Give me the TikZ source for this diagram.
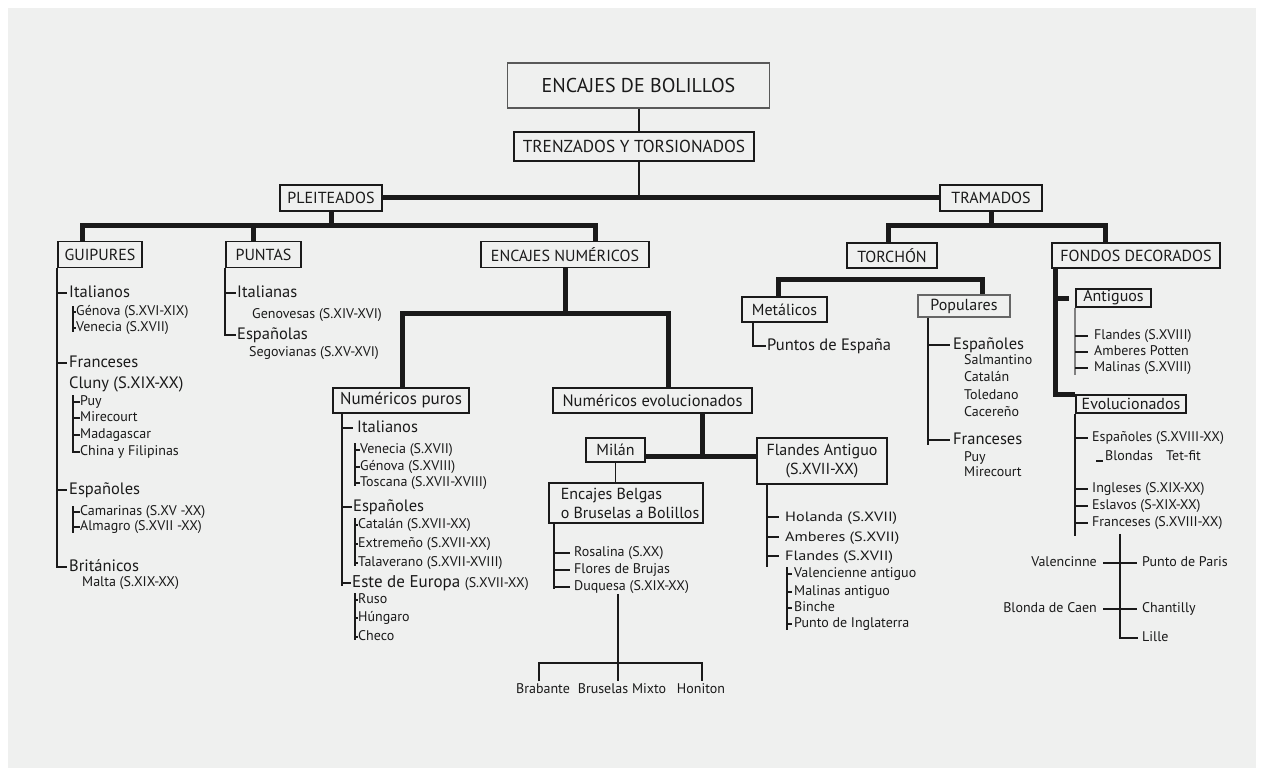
\documentclass[tikz,border=0pt]{standalone}
\usepackage{fontspec}
\setmainfont{PT Sans}
\newfontfamily\widefont[FakeStretch=1.2]{PT Sans}
\definecolor{bgc}{HTML}{EFF0EF}
\definecolor{ink}{HTML}{1A1A1A}
\begin{document}
\begin{tikzpicture}[x=1pt,y=-1pt,
  bx/.style={draw=ink, line width=1.6pt, fill=bgc, inner sep=0pt, align=center, text=ink, font=\fontsize{16}{19}\selectfont},
  lb/.style={anchor=west, inner sep=0pt, text=ink, font=\fontsize{16.5}{18}\selectfont, text height=11.7pt, text depth=3.6pt},
  lw/.style={lb, font=\widefont\fontsize{13.5}{15}\selectfont},
  ls/.style={anchor=west, inner sep=0pt, text=ink, font=\fontsize{14}{16}\selectfont, text height=10pt, text depth=3.1pt},
  thk/.style={line width=5pt, draw=ink},
  thn/.style={line width=2.6pt, draw=ink},
  ln/.style={line width=1.6pt, draw=ink},
  hl/.style={line width=1.2pt, draw=ink}]
\useasboundingbox (0,0) rectangle (1269,778);
\fill[white] (0,0) rectangle (1269,778);
\fill[bgc] (8,8) rectangle (1256,768);

% ---------- top levels
\node[bx, draw=gray!70!black, line width=1.2pt, minimum width=262, minimum height=45, font=\fontsize{20}{22}\selectfont] (root) at (638.5,85.5) {ENCAJES DE BOLILLOS};
\node[bx, minimum width=240, minimum height=29, font=\fontsize{17.3}{19}\selectfont] (trz) at (634,146.5) {TRENZADOS Y TORSIONADOS};
\node[bx, minimum width=102, minimum height=26] (ple) at (331,198) {PLEITEADOS};
\node[bx, minimum width=102, minimum height=26] (tra) at (991,198) {TRAMADOS};
\coordinate (ax) at (639,0);
\draw[thn] (root.south -| ax) -- (trz.north -| ax);
\draw[thn] (trz.south -| ax) -- (ple.east -| ax);
\draw[thk] (ple.east) -- (tra.west);

% ---------- second row
\node[bx, minimum width=84, minimum height=26] (gui) at (100,254.5) {GUIPURES};
\node[bx, minimum width=75, minimum height=26] (pun) at (263.5,254.5) {PUNTAS};
\node[bx, minimum width=168, minimum height=26] (enu) at (565,254.5) {ENCAJES NUMÉRICOS};
\node[bx, minimum width=90, minimum height=25] (tor) at (892,255.5) {TORCHÓN};
\node[bx, minimum width=168, minimum height=25] (fon) at (1136,255.5) {FONDOS DECORADOS};

\coordinate (pb) at (331,226);
\coordinate (gx) at (82,226);
\coordinate (px) at (253,226);
\coordinate (ex) at (595,226);
\draw[thk] (ple.south) -- (pb);
\draw[thk] (gui.north -| gx) -- (gx) -- (ex) -- (enu.north -| ex);
\draw[thk] (pun.north -| px) -- (px);

\coordinate (tb) at (991,226);
\coordinate (tx) at (888,226);
\coordinate (fx) at (1105,226);
\draw[thk] (tra.south) -- (tb);
\draw[thk] (tor.north -| tx) -- (tx) -- (fx) -- (fon.north -| fx);

% ---------- GUIPURES
\node[lb] (g1) at (69,293) {Italianos};
\node[ls] (g11) at (76,312) {Génova (S.XVI-XIX)};
\node[ls] (g12) at (76,328) {Venecia (S.XVII)};
\node[lb] (g2) at (69,363) {Franceses};
\node[lb] (g3) at (69,384) {Cluny (S.XIX-XX)};
\node[ls] (g31) at (80,402) {Puy};
\node[ls] (g32) at (80,418) {Mirecourt};
\node[ls] (g33) at (80,435) {Madagascar};
\node[ls] (g34) at (80,452) {China y Filipinas};
\node[lb] (g4) at (69,490) {Españoles};
\node[ls] (g41) at (80,512) {Camarinas (S.XV -XX)};
\node[ls] (g42) at (80,527) {Almagro (S.XVII -XX)};
\node[lb] (g5) at (69,567) {Británicos};
\node[ls] (g51) at (82,583) {Malta (S.XIX-XX)};
\draw[ln] (gui.south west) |- ([xshift=-2]g5.west);
\foreach \n in {g1,g2,g4} \draw[ln] (\n.west -| gui.west) -- ([xshift=-2]\n.west);
\coordinate (gs) at (73,0);
\draw[hl] ([yshift=6]g11.west -| gs) -- ([yshift=-4]g12.west -| gs);
\foreach \n in {g11,g12} \draw[hl] (\n.west -| gs) -- (\n.west);
\draw[hl] ([yshift=7]g31.west -| gs) |- (g34.west);
\foreach \n in {g31,g32,g33} \draw[hl] (\n.west -| gs) -- (\n.west);
\draw[hl] ([yshift=6]g41.west -| gs) -- ([yshift=-6]g42.west -| gs);
\foreach \n in {g41,g42} \draw[hl] (\n.west -| gs) -- (\n.west);

% ---------- PUNTAS
\node[lb] (p1) at (237,293) {Italianas};
\node[ls] (p11) at (252,315) {Genovesas (S.XIV-XVI)};
\node[lb] (p2) at (237,335) {Españolas};
\node[ls] (p21) at (249,353) {Segovianas (S.XV-XVI)};
\draw[ln] (pun.south west) |- ([xshift=-1]p2.west);
\draw[ln] (p1.west -| pun.west) -- ([xshift=-1]p1.west);

% ---------- ENCAJES NUMERICOS
\node[bx, minimum width=136, minimum height=25, font=\fontsize{17}{19}\selectfont] (npu) at (401,400.5) {Numéricos puros};
\node[bx, minimum width=199, minimum height=25, font=\fontsize{16.5}{19}\selectfont] (nev) at (652.5,400.5) {Numéricos evolucionados};
\coordinate (nb) at (565,313);
\coordinate (nl) at (402,313);
\coordinate (nr) at (668,313);
\draw[thk] (enu.south) -- (nb);
\draw[thk] (npu.north -| nl) -- (nl) -- (nr) -- (nev.north -| nr);

% Numericos puros list
\node[lb] (u1) at (357,428) {Italianos};
\node[ls] (u11) at (360,450) {Venecia (S.XVII)};
\node[ls] (u12) at (360,467) {Génova (S.XVIII)};
\node[ls] (u13) at (360,483) {Toscana (S.XVII-XVIII)};
\node[lb] (u2) at (353,507) {Españoles};
\node[ls] (u21) at (358,525) {Catalán (S.XVII-XX)};
\node[ls] (u22) at (358,544) {Extremeño (S.XVII-XX)};
\node[ls] (u23) at (358,563) {Talaverano (S.XVII-XVIII)};
\node[lb, font=\fontsize{17}{19}\selectfont] (u3) at (352,583) {Este de Europa {\fontsize{14}{16}\selectfont (S.XVII-XX)}};
\node[ls] (u31) at (358,600) {Ruso};
\node[ls] (u32) at (358,618) {Húngaro};
\node[ls] (u33) at (358,637) {Checo};
\coordinate (uv) at (342,0);
\draw[ln] (npu.south -| uv) -- ([yshift=-3]u3.west -| uv);
\draw[ln] (u1.west -| uv) -- ([xshift=-4]u1.west);
\foreach \n in {u2,u3} \draw[ln] (\n.west -| uv) -- ([xshift=-1]\n.west);
\coordinate (us) at (355,0);
\draw[hl] ([yshift=7]u11.west -| us) -- ([yshift=-3]u13.west -| us);
\draw[hl] ([yshift=7]u21.west -| us) -- ([yshift=-3]u23.west -| us);
\draw[hl] ([yshift=7]u31.west -| us) -- ([yshift=-3]u33.west -| us);
\foreach \n in {u11,u12,u13,u21,u22,u23,u31,u32,u33} \draw[hl] (\n.west -| us) -- (\n.west);

% Numericos evolucionados
\node[bx, minimum width=59, minimum height=24] (mil) at (615.5,450) {Milán};
\node[bx, minimum width=130, minimum height=46] (fla) at (822,461) {Flandes Antiguo\\(S.XVII-XX)};
\coordinate (eb) at (702,456);
\draw[thk] (nev.south -| eb) -- (eb);
\draw[thk] (mil.east |- eb) -- (fla.west |- eb);

\node[bx, minimum width=154, minimum height=40, align=left] (bel) at (626,503) {\hspace*{8pt}Encajes Belgas\\\hspace*{8pt}o Bruselas a Bolillos};
\draw[ln] (mil.south) -- (mil.south |- bel.north);

\node[ls] (b1) at (574,553) {Rosalina (S.XX)};
\node[ls] (b2) at (574,570) {Flores de Brujas};
\node[ls] (b3) at (574,587) {Duquesa (S.XIX-XX)};
\coordinate (bv) at (554,0);
\draw[ln] (bel.south -| bv) -- ([yshift=-2]b3.west -| bv);
\foreach \n in {b1,b2,b3} \draw[ln] (\n.west -| bv) -- ([xshift=-4]\n.west);

\coordinate (dq) at (618,663);
\coordinate (dl) at (539,663);
\coordinate (dr) at (702,663);
\node[ls, anchor=center] (bb1) at (543,690) {Brabante};
\node[ls, anchor=center] (bb2) at (622,690) {Bruselas Mixto};
\node[ls, anchor=center] (bb3) at (701,690) {Honiton};
\draw[ln] (b3.south -| dq) -- (dq);
\draw[ln] ([yshift=2]bb1.north -| dl) -- (dl) -- (dr) -- ([yshift=2]bb3.north -| dr);
\draw[ln] (dq) -- ([yshift=2]bb2.north -| dq);

% Flandes Antiguo list
\node[lw] (f1) at (785,517) {Holanda (S.XVII)};
\node[lw] (f2) at (785,537) {Amberes (S.XVII)};
\node[lw] (f3) at (785,556) {Flandes (S.XVII)};
\coordinate (fv) at (767,0);
\draw[ln] (fla.south -| fv) -- ([yshift=-11]f3.west -| fv);
\foreach \n in {f1,f2,f3} \draw[ln] (\n.west -| fv) -- ([xshift=-6]\n.west);
\node[ls] (f31) at (794,574) {Valencienne antiguo};
\node[ls] (f32) at (794,592) {Malinas antiguo};
\node[ls] (f33) at (794,608) {Binche};
\node[ls] (f34) at (794,624) {Punto de Inglaterra};
\coordinate (fs) at (787,0);
\draw[hl] ([yshift=7]f31.west -| fs) -- ([yshift=-6]f34.west -| fs);
\foreach \n in {f31,f32,f33,f34} \draw[hl] (\n.west -| fs) -- ([xshift=-2]\n.west);

% ---------- TORCHON
\node[bx, minimum width=85, minimum height=25] (met) at (784.5,309.5) {Metálicos};
\node[bx, minimum width=92, minimum height=22, draw=gray!80!black, line width=1.2pt] (pop) at (964,306) {Populares};
\coordinate (ml) at (778,279);
\coordinate (mr) at (982,279);
\draw[thk] (met.north -| ml) -- (ml) -- (mr) -- (pop.north -| mr);

\node[lb] (m1) at (767,346) {Puntos de España};
\coordinate (mv) at (753,0);
\draw[ln] (met.south -| mv) |- ([xshift=-1]m1.west);

\node[lb] (q1) at (953,345) {Españoles};
\node[ls] (q11) at (964,361) {Salmantino};
\node[ls] (q12) at (964,378) {Catalán};
\node[ls] (q13) at (964,396) {Toledano};
\node[ls] (q14) at (964,413) {Cacereño};
\node[lb] (q2) at (953,440) {Franceses};
\node[ls] (q21) at (964,458) {Puy};
\node[ls] (q22) at (964,473) {Mirecourt};
\coordinate (qv) at (928,0);
\draw[ln] (pop.south -| qv) -- ([yshift=-5]q2.west -| qv);
\foreach \n in {q1,q2} \draw[ln] (\n.west -| qv) -- ([xshift=-3]\n.west);

% ---------- FONDOS DECORADOS
\node[bx, minimum width=75, minimum height=18] (ant) at (1113.5,298) {Antiguos};
\node[bx, minimum width=110, minimum height=18] (evo) at (1131,404) {Evolucionados};
\coordinate (fdv) at (1055,0);
\coordinate (fdb) at (1055,394);
\draw[thk] (fon.south -| fdv) -- (fdb) -- (evo.west |- fdb);
\draw[thk] (ant.west -| fdv) -- ([xshift=-6]ant.west);

\node[ls] (a1) at (1094,336) {Flandes (S.XVIII)};
\node[ls] (a2) at (1094,352) {Amberes Potten};
\node[ls] (a3) at (1094,368) {Malinas (S.XVIII)};
\draw[ln, draw=gray] (ant.south west) -- ([yshift=-7]a3.west -| ant.west);
\foreach \n in {a1,a2,a3} \draw[ln] (\n.west -| ant.west) -- ([xshift=-6]\n.west);

\node[ls] (v1) at (1092,438) {Españoles (S.XVIII-XX)};
\node[ls] (v11) at (1105,457) {Blondas};
\node[ls] (v12) at (1166,457) {Tet-fit};
\node[ls] (v2) at (1092,489) {Ingleses (S.XIX-XX)};
\node[ls] (v3) at (1092,506) {Eslavos (S-XIX-XX)};
\node[ls] (v4) at (1092,523) {Franceses (S.XVIII-XX)};
\draw[ln] (evo.south west) -- ([yshift=-13]v4.west -| evo.west);
\foreach \n in {v1,v2,v3,v4} \draw[ln] (\n.west -| evo.west) -- ([xshift=-4]\n.west);
\draw[ln] ([xshift=-9,yshift=-4]v11.west) -- ([xshift=-2,yshift=-4]v11.west);

\coordinate (rv) at (1120,0);
\node[ls] (r0) at (1142,638) {Lille};
\node[ls, anchor=east] (rl1) at (1097,563) {Valencinne};
\node[ls] (rr1) at (1142,563) {Punto de Paris};
\node[ls, anchor=east] (rl2) at (1097,609) {Blonda de Caen};
\node[ls] (rr2) at (1142,609) {Chantilly};
\draw[ln] ([yshift=-4]v4.south -| rv) |- ([xshift=-4]r0.west);
\draw[ln] ([xshift=6]rl1.east) -- ([xshift=-5]rr1.west);
\draw[ln] ([xshift=6]rl2.east) -- ([xshift=-5]rr2.west);
\end{tikzpicture}
\end{document}
